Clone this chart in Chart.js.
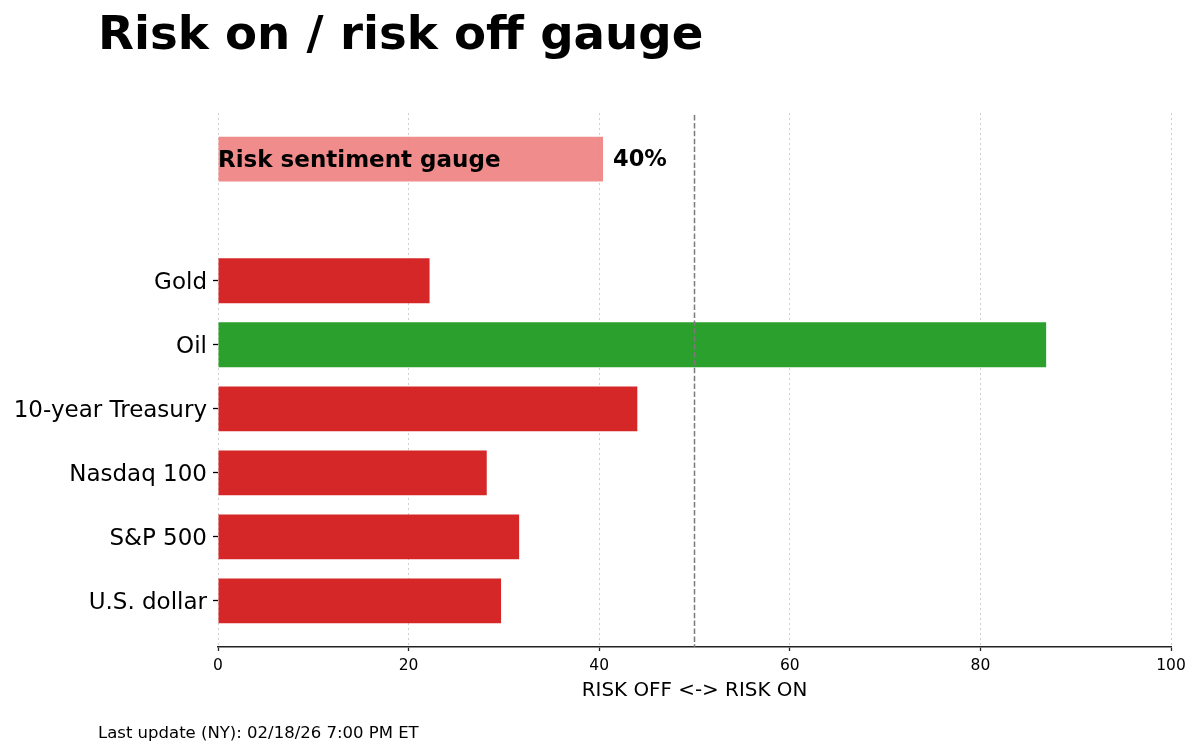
<!DOCTYPE html>
<html>
<head>
<meta charset="utf-8">
<script src="https://cdn.jsdelivr.net/npm/chart.js@4.4.1/dist/chart.umd.min.js"></script>
<style>
  html, body { margin: 0; padding: 0; background: #fff; }
  #wrap { position: relative; width: 1200px; height: 752px; font-family: "DejaVu Sans", sans-serif; color: #000; }
  #chart { position: absolute; left: 0; top: 0; }
  .title { position: absolute; left: 98px; top: 9.5px; font-size: 46.7px; line-height: 46.7px; font-weight: bold; white-space: nowrap; }
  .footer { position: absolute; left: 98px; top: 724.8px; font-size: 16.5px; line-height: 16.5px; white-space: nowrap; }
</style>
</head>
<body>
<div id="wrap">
  <canvas id="chart" width="1200" height="752"></canvas>
  <div class="title">Risk on / risk off gauge</div>
  <div class="footer">Last update (NY): 02/18/26 7:00 PM ET</div>
</div>
<script>
// bottom to top, as drawn
const categories = ["U.S. dollar", "S&P 500", "Nasdaq 100", "10-year Treasury", "Oil", "Gold"];
const scores = [29.7, 31.6, 28.2, 44.0, 86.9, 22.2];
const gaugeName = "Risk sentiment gauge";
const gaugeScore = 40.4;
const xTickValues = [0, 20, 40, 60, 80, 100];
const neutralLevel = 50;

const RED = "#d62728";
const GREEN = "#2ca02c";
const GAUGE = "rgba(240, 128, 128, 0.9)";
const FONT = "DejaVu Sans";
// gauge bar sits a bit less than two rows above the top category
const gaugePos = categories.length + 0.9;

Chart.defaults.font.family = FONT;
Chart.defaults.color = "#000";

// dashed neutral line + labels on the gauge bar, drawn over the grid
const overlay = {
  id: "overlay",
  afterDraw(chart) {
    const { ctx, chartArea, scales } = chart;
    const x50 = scales.x.getPixelForValue(neutralLevel);
    ctx.save();
    ctx.strokeStyle = "#7a7a7a";
    ctx.lineWidth = 1.5;
    ctx.setLineDash([5.5, 2.4]);
    ctx.beginPath();
    ctx.moveTo(x50, chartArea.top + 2);
    ctx.lineTo(x50, chartArea.bottom);
    ctx.stroke();
    ctx.setLineDash([]);

    const gy = scales.y.getPixelForValue(gaugePos) + 1.5;
    ctx.fillStyle = "#000";
    ctx.font = `bold 23px "${FONT}"`;
    ctx.textBaseline = "middle";
    ctx.textAlign = "left";
    ctx.fillText(gaugeName, scales.x.getPixelForValue(0), gy);
    ctx.font = `bold 22.5px "${FONT}"`;
    ctx.fillText(Math.round(gaugeScore) + "%", scales.x.getPixelForValue(gaugeScore) + 10, gy);
    ctx.restore();
  },
};

new Chart(document.getElementById("chart"), {
  type: "bar",
  data: {
    datasets: [
      {
        data: scores.map((v, i) => ({ x: v, y: i })),
        backgroundColor: scores.map((v) => (v > neutralLevel ? GREEN : RED)),
        grouped: false,
        barPercentage: 0.7,
        categoryPercentage: 1,
      },
      {
        data: [{ x: gaugeScore, y: gaugePos }],
        backgroundColor: GAUGE,
        grouped: false,
        barPercentage: 0.7,
        categoryPercentage: 1,
      },
    ],
  },
  options: {
    indexAxis: "y",
    responsive: false,
    animation: false,
    layout: { padding: { top: 113, left: 0, right: 29, bottom: 40 } },
    plugins: {
      legend: { display: false },
      tooltip: { enabled: false },
    },
    scales: {
      x: {
        type: "linear",
        min: 0,
        max: 100,
        z: 1, // grid on top of the bars
        afterBuildTicks: (s) => { s.ticks = xTickValues.map((v) => ({ value: v })); },
        afterFit: (s) => { s.height = 65; s.paddingLeft = 0; s.paddingRight = 0; },
        ticks: { font: { size: 15.5 }, color: "#000", padding: 6, maxRotation: 0, autoSkip: false },
        grid: { color: "#cfcfcf", lineWidth: 1, tickLength: 4, tickColor: "#222", tickWidth: 1.3 },
        border: { display: true, color: "#222", width: 1.6, dash: [2, 3] },
        title: {
          display: true,
          text: "RISK OFF <-> RISK ON",
          font: { size: 19.9 },
          color: "#000",
          padding: { top: 0, bottom: 9.4 },
        },
      },
      y: {
        type: "linear",
        min: -0.72,
        max: 7.62,
        offset: false,
        afterBuildTicks: (s) => { s.ticks = categories.map((c, i) => ({ value: i })); },
        afterFit: (s) => { s.width = 218; s.paddingTop = 0; s.paddingBottom = 0; },
        ticks: {
          callback: (v) => categories[v],
          font: { size: 23 },
          color: "#000",
          padding: 6,
          labelOffset: 2,
          autoSkip: false,
        },
        grid: { offset: false, drawOnChartArea: false, tickLength: 5, tickColor: "#000", tickWidth: 1.3 },
        border: { display: false },
      },
    },
  },
  plugins: [overlay],
});
</script>
</body>
</html>
